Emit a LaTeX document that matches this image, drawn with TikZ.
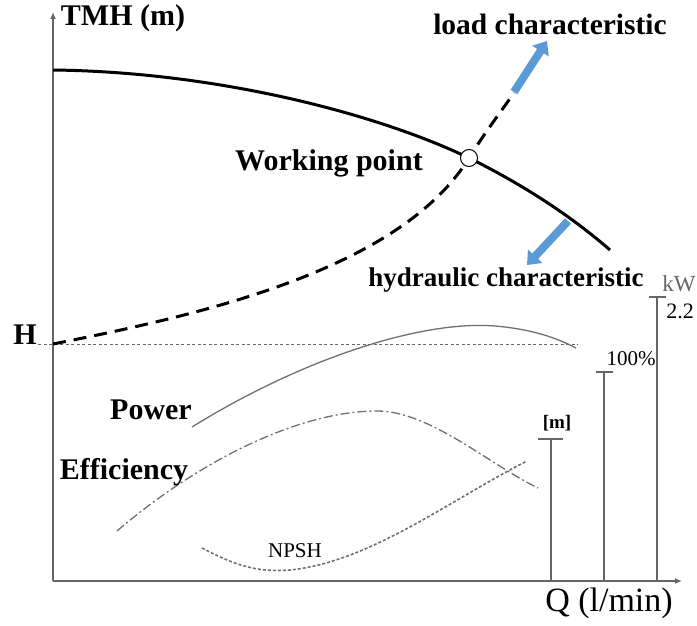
\documentclass[tikz,border=0pt]{standalone}
\usepackage{fontspec}
\setmainfont{Liberation Serif}
\usetikzlibrary{arrows.meta}
\definecolor{axisgray}{HTML}{666666}
\definecolor{curvegray}{HTML}{707070}
\definecolor{arrowblue}{HTML}{5B9BD5}
\tikzset{
  lbl/.style={inner sep=0pt, font=\bfseries\fontsize{30}{32}\selectfont},
  small/.style={inner sep=0pt, font=\fontsize{21}{23}\selectfont},
  axis/.style={draw=axisgray, line width=1.5pt},
  tickline/.style={draw=axisgray, line width=1.3pt},
  pumpcurve/.style={draw=black, line width=3pt},
  loadcurve/.style={draw=black, line width=3pt, dash pattern=on 13pt off 8pt},
  powercurve/.style={draw=curvegray, line width=1.3pt},
  effcurve/.style={draw=curvegray, line width=1.3pt, dash pattern=on 9pt off 3pt on 2pt off 3pt},
  npshcurve/.style={draw=curvegray, line width=1.6pt, dash pattern=on 3pt off 2pt},
  hline/.style={draw=axisgray, line width=0.9pt, dash pattern=on 3pt off 2.5pt},
  bluearrow/.style={draw=arrowblue, line width=8pt, -{Triangle[width=19pt,length=12pt]}},
}
\begin{document}
\begin{tikzpicture}[x=1pt, y=-1pt]
\useasboundingbox (0,0) rectangle (697,626);

% axes
\coordinate (origin) at (53,581);
\coordinate (ytop) at (53,12);
\coordinate (xend) at (682,581);
\draw[axis, -{Latex[length=7pt,width=6pt]}] (origin) -- (ytop);
\draw[axis, -{Latex[length=7pt,width=6pt]}] (origin) -- (xend);

% axis labels
\node[lbl] (tmh) at (123,18) {TMH (m)};
\node[inner sep=0pt, font=\fontsize{34}{36}\selectfont] (qlab) at (609,603) {Q (l/min)};
\node[lbl] (hlab) at (25,335) {H};

% head reference level
\coordinate (hstart) at (38,344);
\coordinate (hend) at (578,344);
\draw[hline] (hstart) -- (hend);

% working point
\coordinate (wpc) at (469,158);

% pump (hydraulic) characteristic
\draw[pumpcurve] (53,70) .. controls (220,72) and (380,115) .. (wpc)
  .. controls (520,183) and (570,215) .. (610,250);

% load characteristic
\draw[loadcurve] (53,344) .. controls (200,315) and (400,270) .. (wpc)
  .. controls (484,134) and (499,114) .. (514,93);

\node[circle, draw=black, line width=1pt, fill=white, minimum size=17pt, inner sep=0pt] (wp) at (wpc) {};
\node[lbl] (wplab) at (329,163) {Working point};

% characteristic labels and blue arrows
\node[lbl, font=\bfseries\fontsize{29.5}{31}\selectfont] (loadlab) at (550,24) {load characteristic};
\node[lbl, font=\bfseries\fontsize{27}{29}\selectfont] (hydrlab) at (506,280) {hydraulic characteristic};
\coordinate (la1) at (514,92);
\coordinate (la2) at (547,41);
\draw[bluearrow] (la1) -- (la2);
\coordinate (ha1) at (568,221);
\coordinate (ha2) at (527,265);
\draw[bluearrow] (ha1) -- (ha2);

% power curve
\draw[powercurve] (192,427) .. controls (300,360) and (420,320) .. (495,326)
  .. controls (530,329) and (555,337) .. (576,348);
\node[lbl] (powlab) at (151,410) {Power};

% efficiency curve
\draw[effcurve] (117,531) .. controls (200,460) and (300,411) .. (377,411)
  .. controls (430,411) and (490,465) .. (538,488);
\node[lbl] (efflab) at (124,472) {Efficiency};

% NPSH curve
\draw[npshcurve] (202,548) .. controls (240,568) and (260,572) .. (290,570)
  .. controls (370,562) and (450,500) .. (527,461);
\node[small] (npshlab) at (295,551) {NPSH};

% scale markers
\coordinate (m0) at (551,581);
\coordinate (m1) at (551,439);
\draw[tickline] (m0) -- (m1);
\coordinate (mt1) at (538,439);
\coordinate (mt2) at (563,439);
\draw[tickline] (mt1) -- (mt2);
\node[inner sep=0pt, font=\bfseries\fontsize{19}{21}\selectfont] (mlab) at (557,423) {[m]};

\coordinate (p0) at (604,581);
\coordinate (p1) at (604,372);
\draw[tickline] (p0) -- (p1);
\coordinate (pt1) at (596,372);
\coordinate (pt2) at (613,372);
\draw[tickline] (pt1) -- (pt2);
\node[small] (pctlab) at (631,359) {100\%};

\coordinate (k0) at (657,581);
\coordinate (k1) at (657,297);
\draw[tickline] (k0) -- (k1);
\coordinate (kt1) at (649,297);
\coordinate (kt2) at (666,297);
\draw[tickline] (kt1) -- (kt2);
\node[inner sep=0pt, font=\fontsize{23}{25}\selectfont, text=axisgray] (kwlab) at (679,284) {kW};
\node[inner sep=0pt, font=\fontsize{22}{24}\selectfont] (kwval) at (680,311) {2.2};
\end{tikzpicture}
\end{document}
